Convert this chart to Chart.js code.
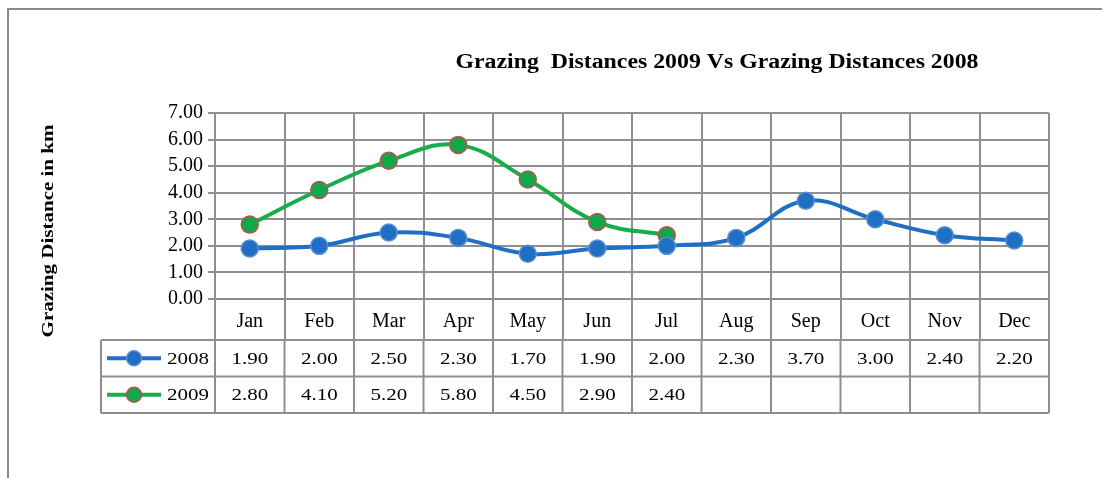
<!DOCTYPE html>
<html lang="en">
<head>
<meta charset="UTF-8" />
<title>Grazing Distances 2009 Vs 2008</title>
<script src="https://cdn.jsdelivr.net/npm/chart.js@4.4.0/dist/chart.umd.min.js"></script>
<style>
  html, body { margin: 0; padding: 0; background: #fff; }
  #wrap { width: 1102px; height: 478px; position: relative; }
</style>
</head>
<body>
<div id="wrap"><canvas id="myChart" width="1102" height="478"></canvas></div>
<script>
const months = ['Jan', 'Feb', 'Mar', 'Apr', 'May', 'Jun', 'Jul', 'Aug', 'Sep', 'Oct', 'Nov', 'Dec'];
const dist2008 = [1.90, 2.00, 2.50, 2.30, 1.70, 1.90, 2.00, 2.30, 3.70, 3.00, 2.40, 2.20];
const dist2009 = [2.80, 4.10, 5.20, 5.80, 4.50, 2.90, 2.40, null, null, null, null, null];
const seriesNames = ['2008', '2009'];
const chartTitle = 'Grazing  Distances 2009 Vs Grazing Distances 2008';
const yTitle = 'Grazing Distance in km';

const gridGray = '#8f8f8f';
const serif = '"Liberation Serif", "Times New Roman", serif';

// the original text is a bit wide, so stretch it horizontally
function wideText(ctx, text, x, y, stretch, align) {
    ctx.save();
    ctx.translate(x, y);
    ctx.scale(stretch, 1);
    ctx.textAlign = align || 'center';
    ctx.fillText(text, 0, 0);
    ctx.restore();
}

// frame, titles and the data table under the axis
const tablePlugin = {
    id: 'tablePlugin',
    afterDraw(chart) {
        const ctx = chart.ctx;
        const x = chart.scales.x;
        const step = x.getPixelForValue(1) - x.getPixelForValue(0);
        const bounds = [];
        for (let i = 0; i <= months.length; i++) {
            bounds.push(x.getPixelForValue(0) - step / 2 + i * step);
        }
        ctx.save();
        // outer frame
        ctx.strokeStyle = '#8a8a8a';
        ctx.lineWidth = 2;
        ctx.beginPath();
        ctx.moveTo(8, 478);
        ctx.lineTo(8, 9);
        ctx.lineTo(1102, 9);
        ctx.stroke();

        // chart title
        ctx.fillStyle = '#000';
        ctx.textBaseline = 'middle';
        ctx.font = 'bold 20px ' + serif;
        wideText(ctx, chartTitle, 717, 63, 1.19);

        // y axis title
        ctx.save();
        ctx.translate(48, 231);
        ctx.rotate(-Math.PI / 2);
        ctx.font = 'bold 17.5px ' + serif;
        wideText(ctx, yTitle, 0, 0, 1.2);
        ctx.restore();

        // table
        const top = 340, rowH = 36.5, left = 101;
        const right = bounds[bounds.length - 1];
        ctx.strokeStyle = gridGray;
        ctx.lineWidth = 2;
        ctx.beginPath();
        for (let r = 0; r <= 2; r++) {
            ctx.moveTo(left, top + r * rowH);
            ctx.lineTo(right, top + r * rowH);
        }
        ctx.moveTo(left, top);
        ctx.lineTo(left, top + 2 * rowH);
        bounds.forEach(b => {
            ctx.moveTo(b, top);
            ctx.lineTo(b, top + 2 * rowH);
        });
        ctx.stroke();

        const rows = [dist2008, dist2009];
        rows.forEach((vals, r) => {
            const ds = chart.data.datasets[r];
            const cy = top + r * rowH + rowH / 2;
            // legend key
            ctx.strokeStyle = ds.borderColor;
            ctx.lineWidth = 4;
            ctx.beginPath();
            ctx.moveTo(107, cy);
            ctx.lineTo(161, cy);
            ctx.stroke();
            ctx.beginPath();
            ctx.arc(134, cy, 7.5, 0, Math.PI * 2);
            ctx.fillStyle = ds.pointBackgroundColor;
            ctx.fill();
            ctx.lineWidth = 1.5;
            ctx.strokeStyle = ds.pointBorderColor;
            ctx.stroke();
            ctx.fillStyle = '#000';
            ctx.font = '17.5px ' + serif;
            wideText(ctx, seriesNames[r], 167, cy + 1, 1.2, 'left');
            vals.forEach((v, i) => {
                if (v === null) return;
                wideText(ctx, v.toFixed(2), x.getPixelForValue(i), cy + 1, 1.2);
            });
        });
        ctx.restore();
    }
};

const ctx = document.getElementById('myChart').getContext('2d');
const myChart = new Chart(ctx, {
    type: 'line',
    data: {
        labels: months,
        datasets: [
            {
                label: seriesNames[0],
                data: dist2008,
                borderColor: '#1f6fc5',
                borderWidth: 4,
                pointRadius: 8.5,
                pointBackgroundColor: '#1f6fc5',
                pointBorderColor: '#5b8fd0',
                pointBorderWidth: 1.5,
                tension: 0.4,
                fill: false
            },
            {
                label: seriesNames[1],
                data: dist2009,
                borderColor: '#1aac4a',
                borderWidth: 4,
                pointRadius: 8.5,
                pointBackgroundColor: '#0fa84a',
                pointBorderColor: '#c0504d',
                pointBorderWidth: 1.5,
                tension: 0.4,
                fill: false
            }
        ]
    },
    options: {
        responsive: false,
        animation: false,
        layout: { padding: { top: 113, right: 53, left: 36, bottom: 0 } },
        plugins: {
            legend: { display: false },
            title: { display: false },
            tooltip: { enabled: false }
        },
        scales: {
            x: {
                offset: true,
                grid: { offset: true, color: gridGray, lineWidth: 2, tickLength: 41 },
                border: { color: gridGray, width: 2 },
                ticks: {
                    color: '#000',
                    font: { family: serif, size: 20 },
                    padding: -30,
                    maxRotation: 0,
                    autoSkip: false
                },
                afterFit(scale) { scale.height = 179; }
            },
            y: {
                min: 0,
                max: 7,
                grid: { color: gridGray, lineWidth: 2, tickLength: 7 },
                border: { color: gridGray, width: 2 },
                ticks: {
                    stepSize: 1,
                    autoSkip: false,
                    color: '#000',
                    font: { family: serif, size: 20 },
                    padding: 5,
                    callback: v => v.toFixed(2)
                },
                afterFit(scale) { scale.width = 179; }
            }
        }
    },
    plugins: [tablePlugin]
});
</script>
</body>
</html>
